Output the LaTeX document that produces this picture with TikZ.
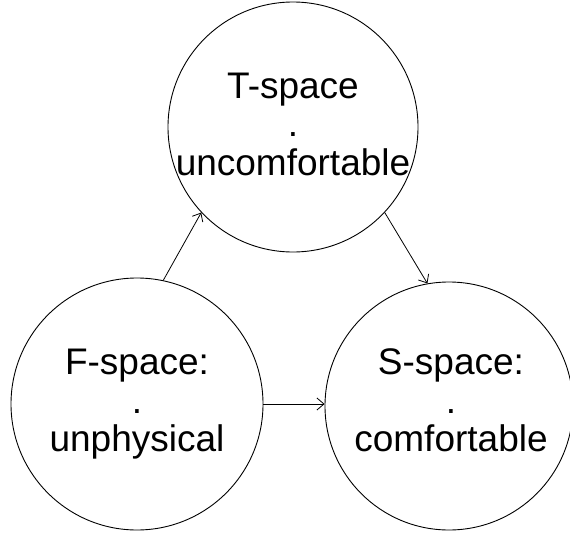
\documentclass[tikz,border=0pt]{standalone}
\usepackage{fontspec}
\setmainfont{Liberation Sans}
\usetikzlibrary{arrows.meta}
\begin{document}
\begin{tikzpicture}[x=1pt,y=-1pt,
  space/.style={circle,draw,line width=0.9pt,inner sep=0pt,minimum size=#1},
  spacetext/.style={anchor=base,inner sep=0pt,font=\fontsize{37}{38.5}\selectfont},
  flow/.style={line width=0.8pt,-{Straight Barb[length=7pt,width=12pt]}}]
\useasboundingbox (0,0) rectangle (570,533);
\node[space=250pt] (T) at (293,127) {};
\node[space=252pt] (F) at (137,404) {};
\node[space=248pt] (S) at (449,406) {};
\node[spacetext] (Tt) at (293,98) {\begin{tabular}[t]{@{}c@{}}T-space\\.\\uncomfortable\end{tabular}};
\node[spacetext] (Ft) at (137,374.5) {\begin{tabular}[t]{@{}c@{}}F-space:\\.\\unphysical\end{tabular}};
\node[spacetext] (St) at (451,374.5) {\begin{tabular}[t]{@{}c@{}}S-space:\\.\\comfortable\end{tabular}};
\draw[flow] (F.78) -- (T.223);
\draw[flow] (T.317) -- (S.100);
\draw[flow] (F.0) -- (F.0 -| S.west);
\end{tikzpicture}
\end{document}
